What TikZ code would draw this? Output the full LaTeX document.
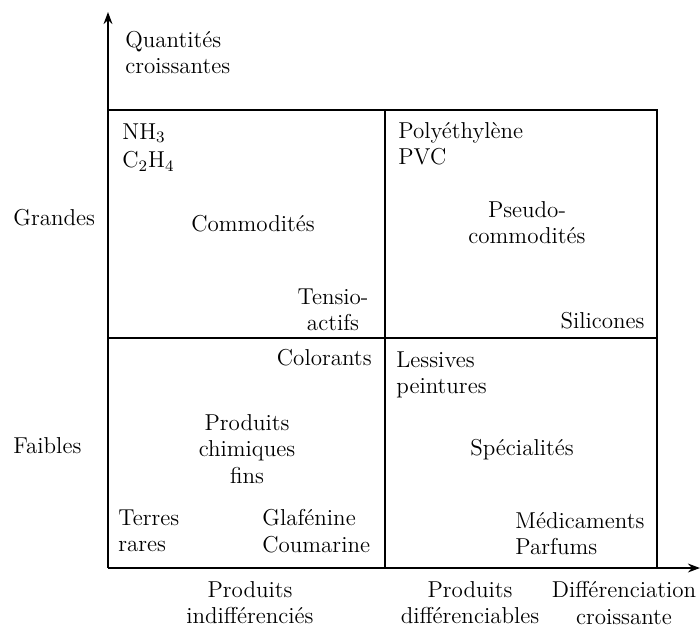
\documentclass[tikz,border=0pt]{standalone}
\usepackage{tikz}
\usetikzlibrary{arrows.meta,positioning}
\tikzset{
  txt/.style={font=\fontsize{11.5}{13.2}\selectfont, inner sep=0pt, align=center},
  txtl/.style={txt, align=left},
  frame/.style={line width=1pt},
  qaxis/.style={line width=1pt, -{Stealth[length=6pt,width=4.4pt]}},
}
\begin{document}
\begin{tikzpicture}[x=0.5pt, y=-0.5pt]
  \useasboundingbox (0,0) rectangle (700,628);
  % axes
  \coordinate (O) at (108,568);
  \coordinate (ytip) at (108,12);
  \coordinate (xtip) at (700,568);
  \draw[qaxis] (O) -- (ytip);
  \draw[qaxis] (O) -- (xtip);
  % quadrant frame
  \coordinate (tl) at (108,110);
  \coordinate (tm) at (385,110);
  \coordinate (tr) at (657,110);
  \coordinate (ml) at (108,338);
  \coordinate (mr) at (657,338);
  \coordinate (bm) at (385,568);
  \coordinate (br) at (657,568);
  \draw[frame] (tl) -- (tr) -- (br);
  \draw[frame] (tm) -- (bm);
  \draw[frame] (ml) -- (mr);
  % axis labels
  \node[txtl, anchor=north west] (qty) at (125,31) {Quantités\\croissantes};
  \node[txt, anchor=base west] (grandes) at (13,225) {Grandes};
  \node[txt, anchor=base west] (faibles) at (13,453) {Faibles};
  \node[txt, anchor=north] (prodind) at (250,581) {Produits\\indifférenciés};
  \node[txt, anchor=north] (proddiff) at (470,581) {Produits\\différenciables};
  \node[txt, anchor=north] (diffcr) at (624,581) {Différenciation\\croissante};
  % top-left: commodites
  \node[txtl, anchor=north west] (nh) at (122,123) {NH$_3$\\[1pt]C$_2$H$_4$};
  \node[txt, anchor=base] (commod) at (253,231) {Commodités};
  \node[txt, anchor=north] (tensio) at (333,288) {Tensio-\\actifs};
  % top-right: pseudo-commodites
  \node[txtl, anchor=north west] (poly) at (398,122) {Polyéthylène\\PVC};
  \node[txt, anchor=north] (pseudo) at (527,201) {Pseudo-\\commodités};
  \node[txt, anchor=base east] (silic) at (645,328) {Silicones};
  % bottom-left: produits chimiques fins
  \node[txt, anchor=base east] (color) at (372,365) {Colorants};
  \node[txt, anchor=north] (pcf) at (247,414) {Produits\\chimiques\\fins};
  \node[txtl, anchor=north west] (terres) at (118,509) {Terres\\rares};
  \node[txtl, anchor=north west] (glaf) at (262,509) {Glafénine\\Coumarine};
  % bottom-right: specialites
  \node[txtl, anchor=north west] (lessiv) at (396,351) {Lessives\\peintures};
  \node[txt, anchor=base] (spec) at (522,455) {Spécialités};
  \node[txtl, anchor=north west] (medic) at (515,512) {Médicaments\\Parfums};
\end{tikzpicture}
\end{document}
